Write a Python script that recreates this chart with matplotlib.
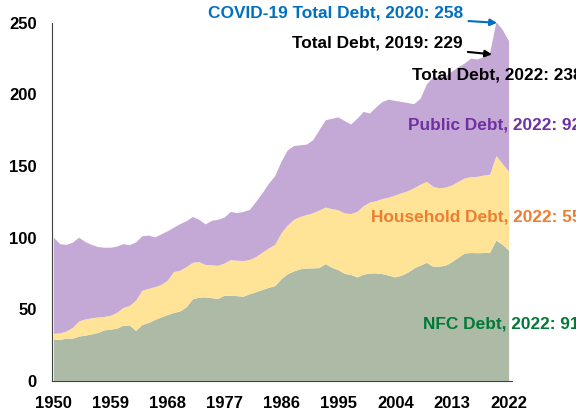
import matplotlib
matplotlib.use("Agg")
import matplotlib.pyplot as plt
import numpy as np

plt.rcParams['font.family'] = ['Liberation Sans', 'DejaVu Sans']
plt.rcParams['font.weight'] = 'bold'

years = np.arange(1950, 2023)

# debt levels (NFC, NFC+household, total)
nfc = [29.0, 28.6, 29.6, 29.5, 31.0, 31.6, 32.5, 33.5, 35.3, 35.8,
       36.5, 38.5, 38.8, 35.0, 39.0, 40.5, 42.5, 44.4, 46.0, 47.5,
       48.5, 51.5, 57.0, 58.2, 58.3, 57.8, 57.2, 59.5, 59.5, 59.2,
       58.8, 60.5, 62.0, 63.5, 65.0, 66.2, 71.0, 74.5, 76.5, 78.0,
       78.5, 78.6, 78.8, 81.6, 79.0, 77.4, 74.8, 74.0, 72.3, 74.2,
       75.0, 75.1, 74.6, 73.5, 72.3, 73.5, 75.5, 78.5, 80.5, 82.5,
       79.7, 79.8, 80.5, 83.0, 86.0, 89.0, 89.3, 89.2, 89.3, 89.5,
       98.0, 95.0, 91.0]
nfc_hh = [33.0, 33.2, 34.5, 37.0, 41.5, 43.0, 43.7, 44.3, 44.7, 45.5,
          47.5, 51.0, 52.3, 56.0, 63.0, 64.3, 65.5, 67.0, 70.0, 76.0,
          77.0, 79.5, 82.5, 83.0, 81.0, 80.8, 80.4, 82.0, 84.4, 84.0,
          83.7, 84.5, 86.5, 89.5, 92.5, 95.0, 103.0, 108.5, 112.5, 114.5,
          115.8, 117.0, 119.0, 121.0, 120.0, 119.2, 117.0, 116.5, 118.0, 122.0,
          124.5, 125.5, 127.0, 128.0, 129.5, 131.0, 132.5, 134.5, 137.0, 139.0,
          135.6, 134.5, 135.0, 136.5, 139.0, 141.3, 142.3, 142.5, 143.4, 144.0,
          157.0, 151.5, 146.0]
total = [100.0, 95.5, 95.0, 96.5, 100.0, 97.0, 95.0, 93.5, 93.0, 93.0,
         93.8, 95.5, 94.8, 96.7, 101.0, 101.5, 100.2, 102.3, 104.5, 107.0,
         109.5, 111.5, 114.5, 112.5, 109.3, 111.8, 112.5, 114.0, 118.0, 117.2,
         118.0, 119.5, 125.0, 131.0, 137.5, 143.0, 153.0, 161.0, 164.0, 164.5,
         165.0, 168.0, 175.0, 182.0, 183.0, 184.0, 181.5, 179.0, 183.0, 187.8,
         186.7, 191.0, 194.8, 196.4, 195.5, 194.8, 194.0, 193.2, 197.0, 207.0,
         212.0, 212.3, 212.7, 216.0, 219.0, 221.6, 225.0, 224.4, 226.0, 229.0,
         250.5, 245.0, 237.0]

nfc = np.array(nfc)
household = np.array(nfc_hh) - nfc
public = np.array(total) - np.array(nfc_hh)

fig = plt.figure(figsize=(5.76, 4.15), dpi=100)
ax = fig.add_axes([0.090, 0.082, 0.799, 0.863])

ax.stackplot(years, nfc, household, public,
             colors=['#ADBAA5', '#FFE498', '#C4A8D6'], linewidth=0)

ax.set_xlim(1949.68, 2022.47)
ax.set_ylim(0, 250)
ax.set_xticks(np.arange(1950, 2023, 9))
ax.set_yticks(np.arange(0, 251, 50))
ax.tick_params(length=0, labelsize=12, pad=11)
for lbl in ax.get_xticklabels() + ax.get_yticklabels():
    lbl.set_fontweight('bold')
ax.spines['top'].set_visible(False)
ax.spines['right'].set_visible(False)
ax.spines['left'].set_color('#404040')
ax.spines['bottom'].set_color('#404040')

fs = 12.4
ax.annotate('COVID-19 Total Debt, 2020: 258', xy=(2020.1, 250), xytext=(2014.7, 257),
            ha='right', va='center', fontsize=fs, fontweight='bold', color='#0070C0',
            annotation_clip=False,
            arrowprops=dict(arrowstyle='-|>', color='#0070C0', lw=1.5, shrinkA=2, shrinkB=0,
                            mutation_scale=10))
ax.annotate('Total Debt, 2019: 229', xy=(2019.3, 228), xytext=(2014.6, 236),
            ha='right', va='center', fontsize=fs, fontweight='bold', color='black',
            annotation_clip=False,
            arrowprops=dict(arrowstyle='-|>', color='black', lw=1.5, shrinkA=2, shrinkB=0,
                            mutation_scale=10))
ax.text(2006.65, 213.7, 'Total Debt, 2022: 238', ha='left', va='center',
        fontsize=fs, fontweight='bold', color='black', clip_on=False)
ax.text(2006.0, 178.8, 'Public Debt, 2022: 92', ha='left', va='center',
        fontsize=fs, fontweight='bold', color='#7030A0', clip_on=False)
ax.text(2000.2, 114.5, 'Household Debt, 2022: 55', ha='left', va='center',
        fontsize=fs, fontweight='bold', color='#ED7D31', clip_on=False)
ax.text(2008.4, 39.8, 'NFC Debt, 2022: 91', ha='left', va='center',
        fontsize=fs, fontweight='bold', color='#007A37', clip_on=False)

fig.savefig('out.png', dpi=100)
